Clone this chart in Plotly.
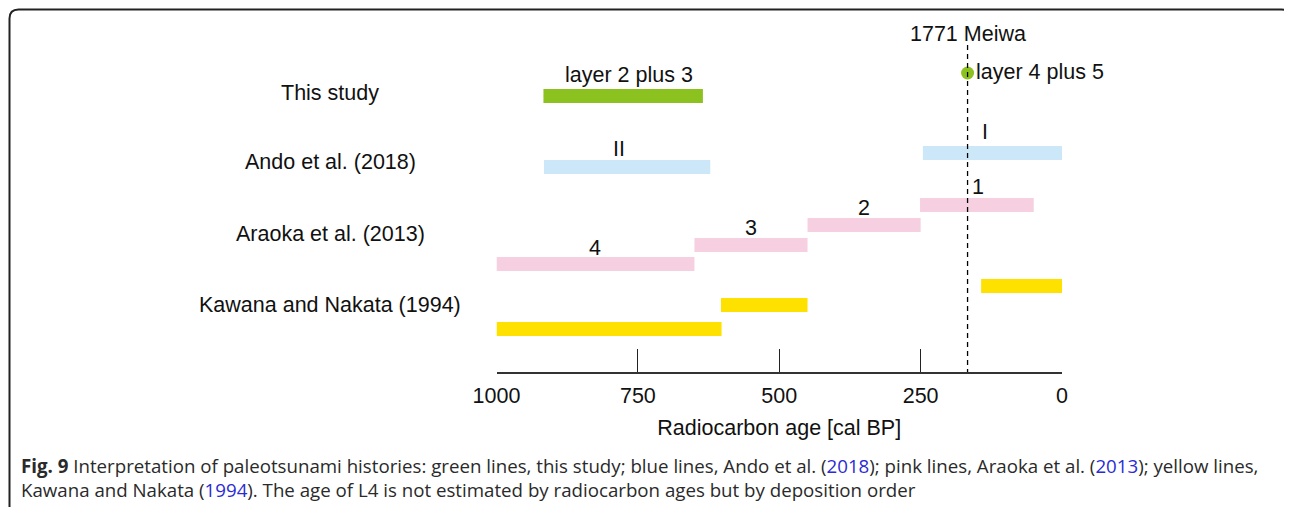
import plotly.graph_objects as go

# page body has an 8px margin; figure overflows to the right/bottom (cropped by window)
BODY = 8
W, H = 1292, 507

# ---------------- data (cal BP) ----------------
this_study_old = [917]
this_study_young = [635]
this_study_labels = ["layer 2 plus 3"]
meiwa_age = 167          # 1771 Meiwa event (dashed line / layer 4 plus 5 dot)

ando_old = [916, 246]
ando_young = [622, 0]
ando_labels = ["II", "I"]

araoka_old = [1000, 650, 450, 251]
araoka_young = [650, 450, 250, 50]
araoka_labels = ["4", "3", "2", "1"]

kawana_old = [1000, 603, 143]
kawana_young = [602, 450, 0]

groups = ["This study", "Ando et al. (2018)", "Araoka et al. (2013)", "Kawana and Nakata (1994)"]
tick_vals = [1000, 750, 500, 250, 0]
tick_text = ["1000", "750", "500", "250", "0"]

# ---------------- layout (page pixel positions) ----------------
def sx(x): return x - BODY   # page px -> figure px
def sy(y): return y - BODY

lane_this = [sy(96)]
lane_ando = [sy(167), sy(153)]
lane_araoka = [sy(264), sy(245), sy(225), sy(205)]
lane_kawana = [sy(329), sy(305), sy(286)]
group_label_y = [93, 162, 234, 305]

GREEN = "#8cc21f"
BLUE = "#cce8f8"
PINK = "#f6cfe0"
YELLOW = "#ffe100"
FONT = "Liberation Sans"
FS = 21.5

AXIS_Y = sy(372)
X0, X1 = sx(496.5), sx(1062.0)

fig = go.Figure()

def add_bars(old, young, lanes, color):
    fig.add_trace(go.Bar(
        orientation="h",
        base=young,
        x=[o - y for o, y in zip(old, young)],
        y=lanes,
        width=14,
        marker=dict(color=color, line=dict(width=0)),
        showlegend=False,
        hoverinfo="skip",
    ))

add_bars(this_study_old, this_study_young, lane_this, GREEN)
add_bars(ando_old, ando_young, lane_ando, BLUE)
add_bars(araoka_old, araoka_young, lane_araoka, PINK)
add_bars(kawana_old, kawana_young, lane_kawana, YELLOW)

# green dot: layer 4 plus 5
fig.add_trace(go.Scatter(
    x=[meiwa_age], y=[sy(73)], mode="markers",
    marker=dict(color=GREEN, size=13, line=dict(width=0)),
    showlegend=False, hoverinfo="skip",
))

# dashed Meiwa line
fig.add_shape(type="line", xref="x", yref="y", x0=meiwa_age, x1=meiwa_age,
              y0=sy(45), y1=AXIS_Y, line=dict(color="black", width=1.3, dash="5px,4px"))

def txt(x, y, s, xanchor="center", xref="x", yref="y", size=FS, color="#111111", family=FONT):
    fig.add_annotation(x=x, y=y, text=s, xref=xref, yref=yref, showarrow=False,
                       xanchor=xanchor, yanchor="middle",
                       font=dict(family=family, size=size, color=color))

# bar labels
txt(765, sy(75), this_study_labels[0])
txt(783, sy(149), ando_labels[0])
txt(136, sy(132), ando_labels[1])
txt(826, sy(248), araoka_labels[0])
txt(550, sy(228), araoka_labels[1])
txt(350, sy(208), araoka_labels[2])
txt(149, sy(187), araoka_labels[3])
txt(meiwa_age, sy(34), "1771 Meiwa")
txt(156, sy(72), "layer 4 plus 5", xanchor="left")

def px(x): return sx(x) / W
def py(y): return 1 - sy(y) / H

# group labels (paper coords)
for g, gy in zip(groups, group_label_y):
    txt(px(330), py(gy), g, xref="paper", yref="paper")

# caption
CAP_FONT = "Open Sans"
CAP_FS = 18.7
line1 = ("<b>Fig. 9</b> Interpretation of paleotsunami histories: green lines, this study; blue lines, "
         "Ando et al. (<span style='color:#2b2bd6'>2018</span>); pink lines, Araoka et al. "
         "(<span style='color:#2b2bd6'>2013</span>); yellow lines,")
line2 = ("Kawana and Nakata (<span style='color:#2b2bd6'>1994</span>). The age of L4 is not estimated "
         "by radiocarbon ages but by deposition order")
txt(px(19), py(465), line1, xanchor="left", xref="paper", yref="paper", size=CAP_FS, color="#2a2a2a", family=CAP_FONT)
txt(px(19), py(489), line2, xanchor="left", xref="paper", yref="paper", size=CAP_FS, color="#2a2a2a", family=CAP_FONT)

# rounded frame
r = 9
lx, ty, rx, by = 9.5, 9.5, 1290.5, 530
path = (f"M {px(lx)},{py(by)} L {px(lx)},{py(ty + r)} Q {px(lx)},{py(ty)} {px(lx + r)},{py(ty)} "
        f"L {px(rx - r)},{py(ty)} Q {px(rx)},{py(ty)} {px(rx)},{py(ty + r)} L {px(rx)},{py(by)}")
fig.add_shape(type="path", xref="paper", yref="paper", path=path,
              line=dict(color="#222222", width=2))

fig.update_layout(
    width=W, height=H,
    margin=dict(l=0, r=0, t=0, b=0, pad=0, autoexpand=False),
    paper_bgcolor="white", plot_bgcolor="white",
    barmode="overlay",
    showlegend=False,
    xaxis=dict(
        domain=[X0 / W, X1 / W],
        range=[1000, 0],
        tickvals=tick_vals, ticktext=tick_text,
        ticks="inside", ticklen=23, tickwidth=1.3, tickcolor="#222222",
        showline=True, linecolor="#333333", linewidth=2,
        showgrid=False, zeroline=False,
        tickfont=dict(family=FONT, size=FS, color="#111111"),
        ticklabelstandoff=3,
        automargin=False,
        title=dict(text="Radiocarbon age [cal BP]", font=dict(family=FONT, size=FS, color="#111111"), standoff=13),
    ),
    yaxis=dict(
        domain=[(H - AXIS_Y) / H, 1],
        range=[AXIS_Y, 0],
        visible=False,
        automargin=False,
    ),
)

fig.write_html("out.html")
